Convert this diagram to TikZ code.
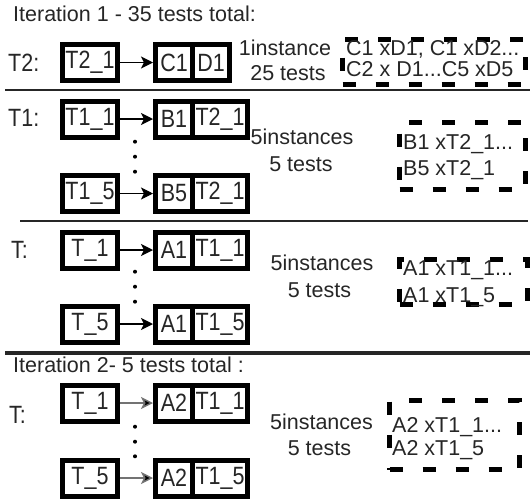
\documentclass[tikz,border=0pt]{standalone}
\usepackage{fontspec}
\setmainfont{Liberation Sans}
\newfontfamily\boxfont[FakeStretch=0.86]{Liberation Sans}
\usetikzlibrary{arrows.meta}
\begin{document}
\begin{tikzpicture}[x=1pt,y=-1pt,
  txt/.style={font=\fontsize{21.5}{21.5}\selectfont, text=black!85, inner sep=0pt},
  lbl/.style={font=\boxfont\fontsize{25}{25}\selectfont, text=black!85, inner sep=0pt, anchor=west},
  cell/.style={draw=black, line width=5pt, minimum height=36pt, inner sep=0pt, outer sep=2.5pt,
    font=\boxfont\fontsize{25}{25}\selectfont, text=black!85},
  wide/.style={cell, minimum width=55pt},
  narrow/.style={cell, minimum width=37pt},
  arr/.style={line width=1.4pt, -{Stealth[length=12pt,width=12pt,inset=3pt]}},
  arrg/.style={arr, draw=black!55, -{Stealth[length=12pt,width=12pt,inset=3pt,fill=black]}},
  dbox/.style={draw=black, line width=5pt, dash pattern=on 13pt off 20pt, inner sep=0pt},
  dline/.style={txt, anchor=west},
  dot/.style={circle, fill=black, inner sep=0pt, minimum size=4pt},
  sep/.style={draw=black!85, line width=1.6pt}
]
\useasboundingbox (0,0) rectangle (530,501);

% ---------- Iteration 1 ----------
\node[txt, anchor=west] (title1) at (13,14) {Iteration 1 - 35 tests total:};

% T2 row
\node[lbl] (lt2) at (8,62.5) {T2:};
\node[wide] (t2a) at (90,62.5) {T2\_1};
\node[narrow] (c1) at (174,62.5) {C1};
\node[narrow] (d1) at (211,62.5) {D1};
\draw[arr] (t2a.east) -- (c1.west);
\node[txt] (i1a) at (285,48) {1instance};
\node[txt] (i1b) at (288,73) {25 tests};
\node[dbox, minimum width=183pt, minimum height=45pt] (db1) at (434,62) {};
\node[dline] (db1a) at (346,49) {C1 xD1, C1 xD2...};
\node[dline] (db1b) at (346,69.5) {C2 x D1...C5 xD5};

\draw[sep] (5,90) -- (530,90);

% T1 rows
\node[lbl] (lt1) at (8,118) {T1:};
\node[wide] (t11) at (90,119) {T1\_1};
\node[narrow] (b1) at (174,119) {B1};
\node[wide] (t21b) at (220,119) {T2\_1};
\draw[arr] (t11.east) -- (b1.west);
\node[dot] (p1) at (135,141.7) {};
\node[dot] (p2) at (135,156.7) {};
\node[dot] (p3) at (135,171.7) {};
\node[wide] (t15) at (90,193.5) {T1\_5};
\node[narrow] (b5) at (174,193.5) {B5};
\node[wide] (t21c) at (220,193.5) {T2\_1};
\draw[arr, line width=1pt] (t15.east) -- (b5.west);
\node[txt] (i2a) at (302,137) {5instances};
\node[txt] (i2b) at (301,164) {5 tests};
\node[dbox, minimum width=126pt, minimum height=67pt] (db2) at (462.5,156) {};
\node[dline] (db2a) at (403,144) {B1 xT2\_1...};
\node[dline] (db2b) at (403,170) {B5 xT2\_1};

\draw[sep] (20,221) -- (528,221);

% T rows
\node[lbl] (lt) at (11,250) {T:};
\node[wide] (ta1) at (90,250) {T\_1};
\node[narrow] (a1) at (174,250) {A1};
\node[wide] (t11b) at (220,250) {T1\_1};
\draw[arr] (ta1.east) -- (a1.west);
\node[dot] (q1) at (135,271.7) {};
\node[dot] (q2) at (135,286.7) {};
\node[dot] (q3) at (135,301.7) {};
\node[wide] (ta5) at (90,324) {T\_5};
\node[narrow] (a1b) at (174,324) {A1};
\node[wide] (t15b) at (220,324) {T1\_5};
\draw[arr] (ta5.east) -- (a1b.west);
\node[txt] (i3a) at (322,263) {5instances};
\node[txt] (i3b) at (319.5,290) {5 tests};
\node[dbox, minimum width=128pt, minimum height=45pt] (db3) at (463.5,282) {};
\node[dline] (db3a) at (403,270) {A1 xT1\_1...};
\node[dline] (db3b) at (403,297) {A1 xT1\_5};

\draw[sep, line width=4pt] (5,353) -- (530,353);

% ---------- Iteration 2 ----------
\node[txt, anchor=west] (title2) at (13,365) {Iteration 2- 5 tests total :};

\node[lbl] (lt2b) at (9,415) {T:};
\node[wide] (tb1) at (90,403) {T\_1};
\node[narrow] (a2) at (174,403) {A2};
\node[wide] (t11c) at (220,403) {T1\_1};
\draw[arrg] (tb1.east) -- (a2.west);
\node[dot] (r1) at (135,426.7) {};
\node[dot] (r2) at (135,441.7) {};
\node[dot] (r3) at (135,456.3) {};
\node[wide] (tb5) at (90,478) {T\_5};
\node[narrow] (a2b) at (174,478) {A2};
\node[wide] (t15c) at (220,478) {T1\_5};
\draw[arrg] (tb5.east) -- (a2b.west);
\node[txt] (i4a) at (321.5,422) {5instances};
\node[txt] (i4b) at (319.5,448) {5 tests};
\node[dbox, minimum width=130pt, minimum height=69pt] (db4) at (454.5,435) {};
\node[dline] (db4a) at (392,427) {A2 xT1\_1...};
\node[dline] (db4b) at (392,450) {A2 xT1\_5};
\end{tikzpicture}
\end{document}
